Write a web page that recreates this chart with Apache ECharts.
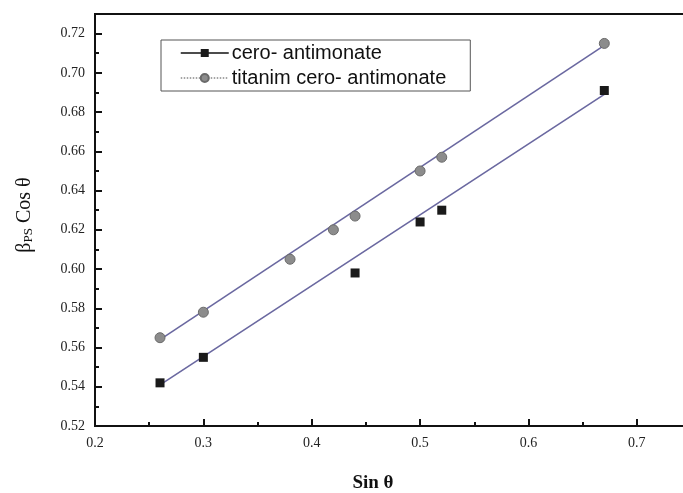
<!DOCTYPE html>
<html>
<head>
<meta charset="utf-8">
<script src="https://cdn.jsdelivr.net/npm/echarts@6/dist/echarts.min.js"></script>
<style>
  html, body { margin: 0; padding: 0; background: #fff; overflow: hidden; }
  #chart { width: 683px; height: 493px; }
</style>
</head>
<body>
<div id="chart"></div>
<script>
// measured points (sin theta, beta cos theta)
var ceroX = [0.26, 0.30, 0.44, 0.50, 0.52, 0.67];
var ceroY = [0.542, 0.555, 0.598, 0.624, 0.630, 0.691];
var titanX = [0.26, 0.30, 0.38, 0.42, 0.44, 0.50, 0.52, 0.67];
var titanY = [0.565, 0.578, 0.605, 0.620, 0.627, 0.650, 0.657, 0.715];

// linear fit lines at both ends
var fitX = [0.26, 0.67];
var ceroFit = [0.541, 0.689];
var titanFit = [0.564, 0.714];

var xTicks = [0.2, 0.3, 0.4, 0.5, 0.6, 0.7];

function pairs(xs, ys) {
  return xs.map(function (x, i) { return [x, ys[i]]; });
}

var chart = echarts.init(document.getElementById('chart'));

var serif = '"Liberation Serif", "DejaVu Serif", serif';

chart.setOption({
  animation: false,
  grid: {
    left: 95, top: 14, width: 596, bottom: 67,
    outerBoundsMode: 'none',
    show: true, borderColor: '#111', borderWidth: 2
  },
  legend: {
    orient: 'vertical',
    left: 161, top: 40,
    padding: [3, 24, 3, 19],
    itemGap: 5,
    itemWidth: 48, itemHeight: 10,
    borderColor: '#555', borderWidth: 1,
    textStyle: { fontFamily: '"Liberation Sans", Arial, sans-serif', fontSize: 20, color: '#111', padding: [0, 0, 0, -2] },
    data: [
      { name: 'cero- antimonate', lineStyle: { color: '#111', width: 1.5, opacity: 1, type: 'solid' } },
      { name: 'titanim cero- antimonate', lineStyle: { color: '#888', width: 1.5, opacity: 1, type: 'dotted' } }
    ]
  },
  xAxis: {
    type: 'value',
    min: 0.2, max: 0.75, interval: 0.1,
    name: 'Sin θ',
    nameLocation: 'middle',
    nameGap: 48,
    nameTextStyle: { fontFamily: serif, fontSize: 19, fontWeight: 'bold', color: '#111', padding: [0, 40, 0, 0] },
    axisLine: { show: true, lineStyle: { color: '#111', width: 2 } },
    axisTick: { show: true, inside: true, length: 7, lineStyle: { color: '#111', width: 2 } },
    minorTick: { show: true, splitNumber: 2, length: 4, lineStyle: { color: '#111', width: 2 } },
    splitLine: { show: false },
    axisLabel: {
      fontFamily: serif, fontSize: 14, color: '#222', margin: 10,
      showMaxLabel: false,
      formatter: function (v) { return xTicks.indexOf(Math.round(v * 10) / 10) >= 0 ? v.toFixed(1) : ''; }
    }
  },
  yAxis: {
    type: 'value',
    min: 0.52, max: 0.73, interval: 0.02,
    name: 'β{sub|PS} Cos θ',
    nameLocation: 'middle',
    nameGap: 60,
    nameTextStyle: {
      fontFamily: serif, fontSize: 20, color: '#111', padding: [0, 0, 0, 10],
      rich: { sub: { fontFamily: serif, fontSize: 13, color: '#111', verticalAlign: 'bottom', padding: [8, 0, 0, 0] } }
    },
    axisLine: { show: true, lineStyle: { color: '#111', width: 2 } },
    axisTick: { show: true, inside: true, length: 7, lineStyle: { color: '#111', width: 2 } },
    minorTick: { show: true, splitNumber: 2, length: 4, lineStyle: { color: '#111', width: 2 } },
    splitLine: { show: false },
    axisLabel: {
      fontFamily: serif, fontSize: 14, color: '#222', margin: 10,
      showMaxLabel: false,
      formatter: function (v) { return v.toFixed(2); }
    }
  },
  series: [
    {
      name: 'cero- antimonate fit',
      type: 'line',
      data: pairs(fitX, ceroFit),
      showSymbol: false,
      lineStyle: { color: '#6a68a0', width: 1.6 },
      z: 2
    },
    {
      name: 'titanim cero- antimonate fit',
      type: 'line',
      data: pairs(fitX, titanFit),
      showSymbol: false,
      lineStyle: { color: '#6a68a0', width: 1.6 },
      z: 2
    },
    {
      name: 'cero- antimonate',
      type: 'line',
      data: pairs(ceroX, ceroY),
      symbol: 'rect',
      symbolSize: 9,
      itemStyle: { color: '#1a1a1a' },
      lineStyle: { opacity: 0 },
      z: 3
    },
    {
      name: 'titanim cero- antimonate',
      type: 'line',
      data: pairs(titanX, titanY),
      symbol: 'circle',
      symbolSize: 10,
      itemStyle: { color: '#8c8c8c', borderColor: '#6a6a6a', borderWidth: 1 },
      lineStyle: { opacity: 0 },
      z: 3
    }
  ]
});
</script>
</body>
</html>
